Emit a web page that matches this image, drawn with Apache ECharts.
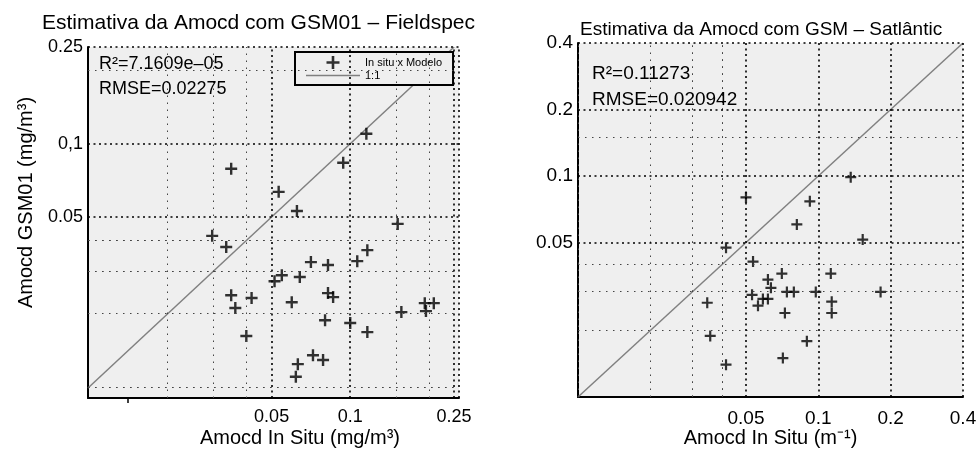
<!DOCTYPE html>
<html><head><meta charset="utf-8">
<script src="https://cdn.jsdelivr.net/npm/echarts@6/dist/echarts.min.js"></script>
<style>html,body{margin:0;padding:0;background:#fff}#c{width:979px;height:450px}</style>
</head><body><div id="c"></div>
<script>
// ---- Left panel: GSM01 – Fieldspec ----
const leftInSitu = [0.0350, 0.0532, 0.0625, 0.0940, 0.1153, 0.152, 0.0296, 0.0335, 0.0350, 0.0363, 0.0419, 0.0400, 0.0513, 0.0547, 0.0597, 0.0641, 0.0707, 0.0822, 0.0822, 0.0860, 0.0801, 0.100, 0.1064, 0.1163, 0.1163, 0.0720, 0.0787, 0.0630, 0.0619, 0.157, 0.193, 0.209, 0.195];
const leftModel  = [0.0789, 0.0634, 0.0529, 0.0835, 0.110, 0.0468, 0.0418, 0.0376, 0.0238, 0.0211, 0.0232, 0.0162, 0.0272, 0.0288, 0.0223, 0.0283, 0.0326, 0.0317, 0.0243, 0.0234, 0.0188, 0.0183, 0.0329, 0.0365, 0.0168, 0.0135, 0.0129, 0.0124, 0.0110, 0.0203, 0.0221, 0.0221, 0.0205];
const leftXRange = [0.0099, 0.261];
const leftYRange = [0.009, 0.25];
const leftOneToOne = [0.0099, 0.25];
const leftXTicks = [0.05, 0.1, 0.25];
const leftXTickLabels = ['0.05', '0.1', '0.25'];
const leftYTicks = [0.05, 0.1, 0.25];
const leftYTickLabels = ['0.05', '0,1', '0.25'];
const leftExtraXTick = [0.014];
const leftMajorX = [0.05, 0.1, 0.25, 0.261];
const leftMinorX = [0.02, 0.03, 0.04, 0.15, 0.2];
const leftMajorY = [0.05, 0.1, 0.25];
const leftMinorY = [0.01, 0.015, 0.02, 0.025, 0.03, 0.035, 0.04, 0.045, 0.2];

// ---- Right panel: GSM – Satlântic ----
const rightInSitu = [0.1364, 0.0500, 0.0922, 0.0814, 0.153, 0.0413, 0.0535, 0.0705, 0.1127, 0.0617, 0.0635, 0.0740, 0.0791, 0.0976, 0.1816, 0.0530, 0.0588, 0.0617, 0.0561, 0.1137, 0.1137, 0.0726, 0.0896, 0.0712, 0.0413, 0.0345, 0.0355];
const rightModel  = [0.0988, 0.0800, 0.0768, 0.0604, 0.0516, 0.0474, 0.0410, 0.0362, 0.0362, 0.0340, 0.0312, 0.0299, 0.0299, 0.0299, 0.0299, 0.0290, 0.0278, 0.0278, 0.0259, 0.0270, 0.0240, 0.0240, 0.0179, 0.0150, 0.0140, 0.0267, 0.0189];
const rightRange = [0.01, 0.4];
const rightOneToOne = [0.01, 0.4];
const rightTicks = [0.05, 0.1, 0.2, 0.4];
const rightTickLabels = ['0.05', '0.1', '0.2', '0.4'];
const rightMajorX = [0.05, 0.1, 0.2, 0.4];
const rightMinorX = [0.015, 0.02, 0.025, 0.03, 0.035, 0.04, 0.045];
const rightMajorY = [0.05, 0.1, 0.2, 0.4];
const rightMinorY = [0.02, 0.03, 0.04, 0.15];

const FONT = '"Liberation Sans", Arial, Helvetica, sans-serif';
const PLUS = 'path://M4,0H6V4H10V6H6V10H4V6H0V4H4Z';
const BG = '#efefef';

const zip = (a, b) => a.map((v, i) => [v, b[i]]);
const labelFmt = (ticks, labels) => v => {
  const i = ticks.findIndex(t => Math.abs(Math.log10(t) - Math.log10(v)) < 1e-6);
  return i >= 0 ? labels[i] : '';
};
const majorStyle = { color: '#000', width: 1.6, type: [2, 3.5] };
const minorStyle = { color: '#444', width: 1, type: [1.5, 5.5] };
const gridMarks = (majX, minX, majY, minY) => [].concat(
  minX.map(v => ({ xAxis: v, lineStyle: minorStyle })),
  minY.map(v => ({ yAxis: v, lineStyle: minorStyle })),
  majX.map(v => ({ xAxis: v, lineStyle: majorStyle })),
  majY.map(v => ({ yAxis: v, lineStyle: majorStyle }))
);
const markHolder = (idx, data) => ({
  type: 'line', xAxisIndex: idx, yAxisIndex: idx, data: [], z: 1, silent: true,
  markLine: { silent: true, symbol: ['none', 'none'], label: { show: false }, animation: false,
    emphasis: { disabled: true }, data: data }
});
const axisBase = {
  type: 'log', logBase: 10,
  axisLine: { show: true, onZero: false, lineStyle: { color: '#000', width: 2 } },
  splitLine: { show: false }, minorTick: { show: false }, minorSplitLine: { show: false },
  nameMoveOverlap: false
};
const txt = (size) => ({ fontSize: size, fontWeight: 'normal', color: '#000', fontFamily: FONT });

const chart = echarts.init(document.getElementById('c'), null, { renderer: 'canvas' });
chart.setOption({
  animation: false,
  backgroundColor: '#fff',
  textStyle: { fontFamily: FONT },
  title: [
    { text: 'Estimativa da Amocd com GSM01 – Fieldspec', left: 42, top: 13, padding: 0, textStyle: txt(21) },
    { text: 'Estimativa da Amocd com GSM – Satlântic', left: 580, top: 20, padding: 0, textStyle: txt(19) },
    { text: 'R²=7.1609e–05', left: 99, top: 55, padding: 0, z: 5, textStyle: txt(18) },
    { text: 'RMSE=0.02275', left: 99, top: 80, padding: 0, z: 5, textStyle: txt(18) },
    { text: 'R²=0.11273', left: 592, top: 64, padding: 0, z: 5, textStyle: txt(19) },
    { text: 'RMSE=0.020942', left: 592, top: 90, padding: 0, z: 5, textStyle: txt(19) }
  ],
  legend: {
    orient: 'vertical', left: 295, top: 52, padding: [4, 11, 4, 11],
    itemWidth: 54, itemHeight: 13, itemGap: 1, align: 'left', selectedMode: false,
    backgroundColor: BG, borderColor: '#000', borderWidth: 2, borderRadius: 0,
    textStyle: { fontSize: 11, color: '#000', fontFamily: FONT },
    data: [
      { name: 'In situ x Modelo', icon: PLUS },
      { name: '1:1', icon: 'path://M0,0H54V1.5H0Z' }
    ]
  },
  grid: [
    { left: 88, top: 47, width: 371, height: 351, show: true, backgroundColor: BG, borderWidth: 0,
      containLabel: false, outerBoundsMode: 'none' },
    { left: 578, top: 43, width: 385, height: 354, show: true, backgroundColor: BG, borderWidth: 0,
      containLabel: false, outerBoundsMode: 'none' }
  ],
  xAxis: [
    Object.assign({}, axisBase, {
      gridIndex: 0, min: leftXRange[0], max: leftXRange[1],
      name: 'Amocd In Situ (mg/m³)', nameLocation: 'middle', nameGap: 30,
      nameTextStyle: { fontSize: 20, color: '#000', fontFamily: FONT, padding: [0, 0, 0, 53] },
      axisTick: { show: true, customValues: leftExtraXTick, inside: false, length: 5, lineStyle: { color: '#000', width: 1.5 } },
      axisLabel: { customValues: leftXTicks, formatter: labelFmt(leftXTicks, leftXTickLabels),
        fontSize: 18, color: '#000', margin: 10, fontFamily: FONT, showMaxLabel: true, showMinLabel: true }
    }),
    Object.assign({}, axisBase, {
      gridIndex: 1, min: rightRange[0], max: rightRange[1],
      name: 'Amocd In Situ (m⁻¹)', nameLocation: 'middle', nameGap: 31,
      nameTextStyle: { fontSize: 20, color: '#000', fontFamily: FONT },
      axisTick: { show: false },
      axisLabel: { customValues: rightTicks, formatter: labelFmt(rightTicks, rightTickLabels),
        fontSize: 19, color: '#000', margin: 12, fontFamily: FONT, showMaxLabel: true, showMinLabel: true }
    })
  ],
  yAxis: [
    Object.assign({}, axisBase, {
      gridIndex: 0, min: leftYRange[0], max: leftYRange[1],
      name: 'Amocd GSM01 (mg/m³)', nameLocation: 'middle', nameGap: 52, nameRotate: 90,
      nameTextStyle: { fontSize: 20, color: '#000', fontFamily: FONT, padding: [0, 0, 0, 40] },
      axisTick: { show: false },
      axisLabel: { customValues: leftYTicks, formatter: labelFmt(leftYTicks, leftYTickLabels),
        fontSize: 18, color: '#000', margin: 5, fontFamily: FONT, showMaxLabel: true, showMinLabel: true }
    }),
    Object.assign({}, axisBase, {
      gridIndex: 1, min: rightRange[0], max: rightRange[1],
      axisTick: { show: false },
      axisLabel: { customValues: rightTicks, formatter: labelFmt(rightTicks, rightTickLabels),
        fontSize: 19, color: '#000', margin: 5, fontFamily: FONT, showMaxLabel: true, showMinLabel: true }
    })
  ],
  series: [
    markHolder(0, gridMarks(leftMajorX, leftMinorX, leftMajorY, leftMinorY)),
    markHolder(1, gridMarks(rightMajorX, rightMinorX, rightMajorY, rightMinorY)),
    { name: '1:1', type: 'line', xAxisIndex: 0, yAxisIndex: 0, z: 2,
      data: leftOneToOne.map(v => [v, v]), showSymbol: false, symbol: 'none', symbolKeepAspect: true,
      color: '#808080', lineStyle: { color: '#808080', width: 1.5 }, silent: true },
    { name: 'In situ x Modelo', type: 'scatter', xAxisIndex: 0, yAxisIndex: 0, z: 3,
      data: zip(leftInSitu, leftModel), symbol: PLUS, symbolSize: 12, symbolKeepAspect: true,
      itemStyle: { color: '#000' }, silent: true },
    { name: '1:1 (Satlântic)', type: 'line', xAxisIndex: 1, yAxisIndex: 1, z: 2,
      data: rightOneToOne.map(v => [v, v]), showSymbol: false, symbol: 'none',
      color: '#808080', lineStyle: { color: '#808080', width: 1.5 }, silent: true },
    { name: 'In situ x Modelo (Satlântic)', type: 'scatter', xAxisIndex: 1, yAxisIndex: 1, z: 3,
      data: zip(rightInSitu, rightModel), symbol: PLUS, symbolSize: 11, symbolKeepAspect: true,
      itemStyle: { color: '#000' }, silent: true }
  ]
});
</script></body></html>
